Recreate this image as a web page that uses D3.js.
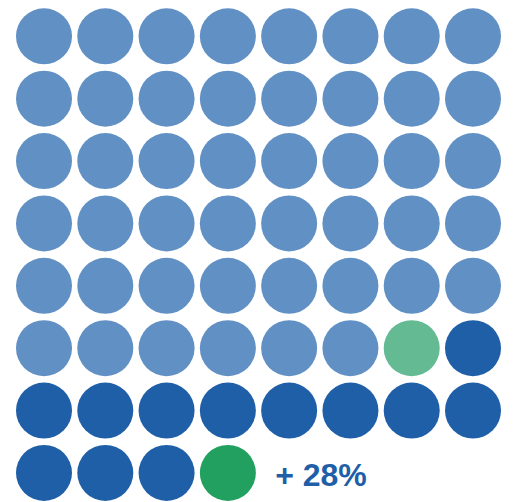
<!DOCTYPE html>
<html>
<head>
<meta charset="utf-8">
<script src="https://cdn.jsdelivr.net/npm/d3@7"></script>
<style>
  html, body { margin: 0; padding: 0; background: #fff; }
  svg { display: block; }
</style>
</head>
<body>
<svg id="chart"></svg>
<script>
// unit groups, in fill order (row by row, left to right)
const groups = ["before", "beforeHighlight", "after", "afterHighlight"];
const counts = [46, 1, 12, 1];
const colors = ["#6190c4", "#64ba93", "#1f5fa8", "#22a060"];
const label = "+ 28%";

const width = 514, height = 502;
const cols = 8, rows = 8;

const svg = d3.select("#chart").attr("width", width).attr("height", height);

// expand groups into one unit per circle
const units = [];
groups.forEach((g, gi) => {
  for (let k = 0; k < counts[gi]; k++) units.push({ group: g, color: colors[gi] });
});

const x = d3.scalePoint().domain(d3.range(cols)).range([44, 473]);
const y = d3.scalePoint().domain(d3.range(rows)).range([36.3, 472.9]);
const r = 28;

svg.selectAll("circle.unit")
  .data(units)
  .enter()
  .append("circle")
  .attr("class", "unit")
  .attr("cx", (d, i) => x(i % cols))
  .attr("cy", (d, i) => y(Math.floor(i / cols)))
  .attr("r", r)
  .attr("fill", d => d.color);

// label after the last unit
const last = units.length;
svg.append("text")
  .attr("x", x(last % cols) - r + 14)
  .attr("y", y(Math.floor(last / cols)) + 13)
  .attr("fill", colors[2])
  .style("font-family", "Liberation Sans, Arial, sans-serif")
  .style("font-weight", "bold")
  .style("font-size", "32px")
  .text(label);
</script>
</body>
</html>
